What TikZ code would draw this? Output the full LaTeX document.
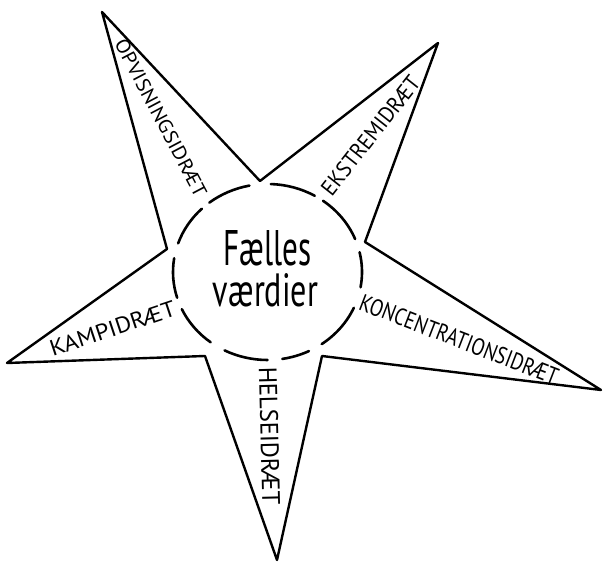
\documentclass[tikz,border=0pt]{standalone}
\usepackage{fontspec}
\setmainfont{PT Sans}
\usepackage{graphicx}
\begin{document}
\begin{tikzpicture}[x=1pt,y=1pt,
  star/.style={line width=2.4pt, line join=round, line cap=round},
  ring/.style={line width=2.6pt, line cap=round},
  lab/.style={inner sep=0pt}]
\useasboundingbox (0,0) rectangle (603,562);
\coordinate (TL) at (102,550);
\coordinate (Ti) at (260,381);
\coordinate (TR) at (438,519);
\coordinate (RUi) at (365,320);
\coordinate (R) at (601,172);
\coordinate (RLi) at (322,206);
\coordinate (B) at (277,2);
\coordinate (BLi) at (205,206);
\coordinate (L) at (7,199);
\coordinate (LUi) at (167,313);
\coordinate (C) at (267.5,290);
\draw[star] (TL) -- (Ti) -- (TR) -- (RUi) -- (R) -- (RLi) -- (B) -- (BLi) -- (L) -- (LUi) -- cycle;
\foreach \a/\b in {60/88,101/128,134/161,171/197,205/233,243/270,279/296,305/336,-10/13,22/54}
  \draw[ring] (C) ++(\a:94.5pt and 88pt) arc[start angle=\a, end angle=\b, x radius=94.5pt, y radius=88pt];
\node[lab, rotate=-62.2] (opv) at (161,444) {\resizebox{175pt}{14pt}{OPVISNINGSIDRÆT}};
\node[lab, rotate=51.8] (eks) at (370.5,426.5) {\resizebox{145pt}{16pt}{EKSTREMIDRÆT}};
\node[lab, rotate=18.4] (kamp) at (112.5,233.5) {\resizebox{131pt}{16pt}{KAMPIDRÆT}};
\node[lab, rotate=-21.1] (kon) at (459,222.5) {\resizebox{211pt}{17pt}{KONCENTRATIONSIDRÆT}};
\node[lab, rotate=-88.6] (hel) at (269.5,126) {\resizebox{138pt}{18pt}{HELSEIDRÆT}};
\node[lab] (f1) at (267.5,313.5) {\resizebox{88pt}{35pt}{Fælles}};
\node[lab] (f2) at (265.5,272) {\resizebox{105pt}{33pt}{værdier}};
\end{tikzpicture}
\end{document}
